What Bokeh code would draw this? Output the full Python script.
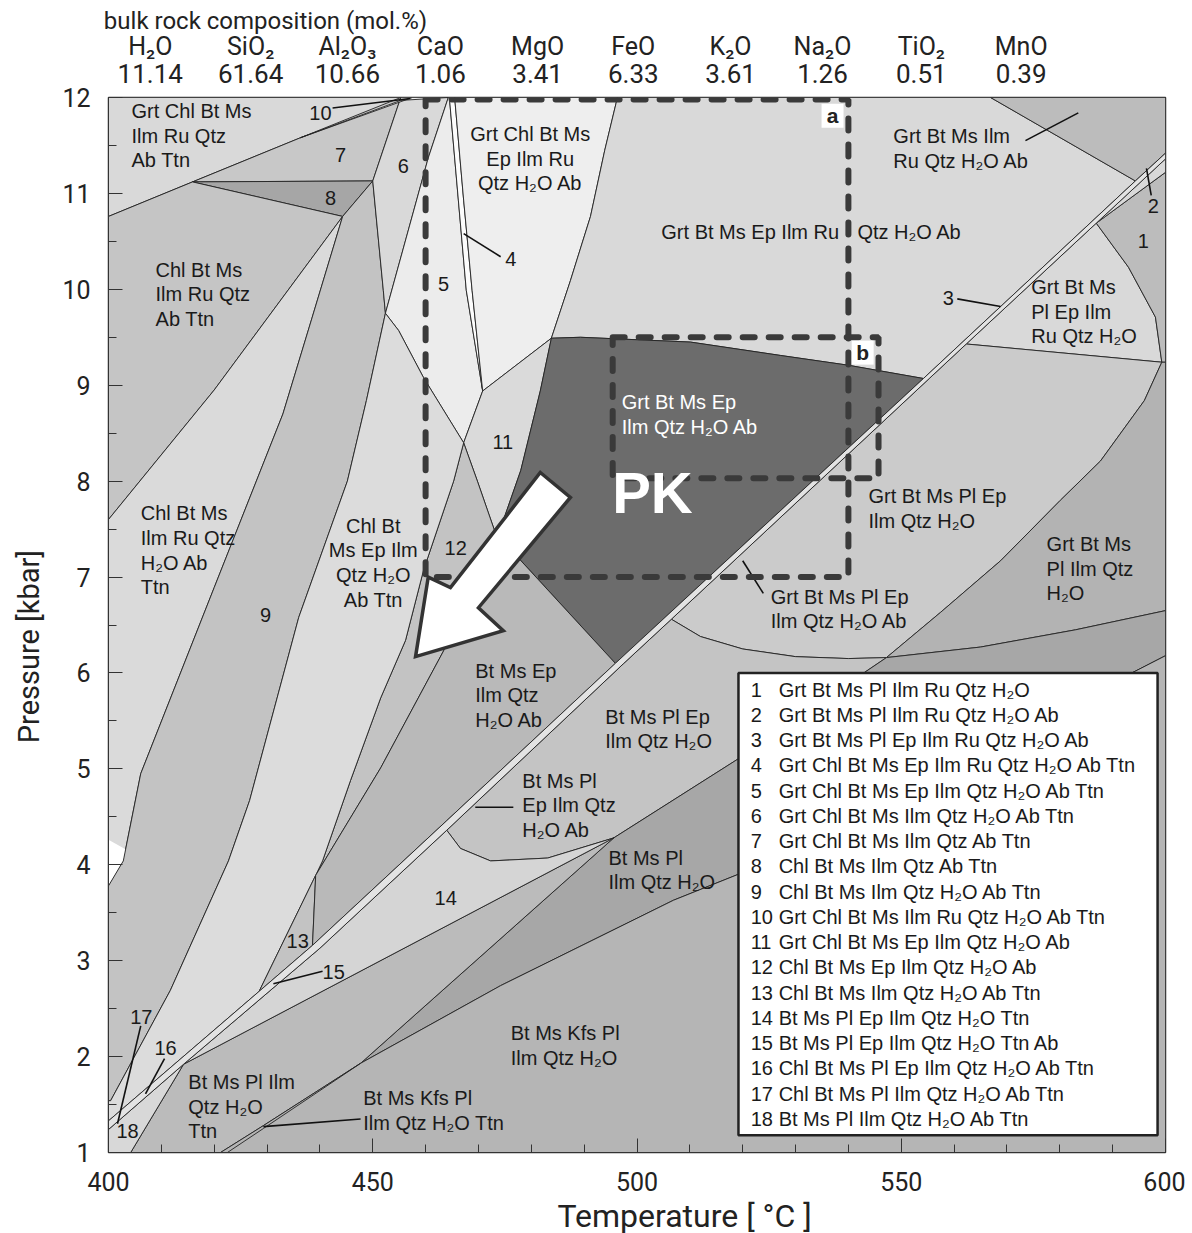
from bokeh.plotting import figure
from bokeh.models import Range1d, FixedTicker, LinearAxis
from bokeh.embed import file_html
from bokeh.resources import INLINE
from bokeh.core.properties import value

# ---------------- axes ----------------
x_major = [400, 450, 500, 550, 600]
x_minor = list(range(400, 601, 10))
y_major = list(range(1, 13))
y_minor = [v / 2 for v in range(2, 25)]

# ---------------- bulk composition header ----------------
head_title = "bulk rock composition (mol.%)"
oxides = ["H₂O", "SiO₂", "Al₂O₃", "CaO", "MgO", "FeO", "K₂O", "Na₂O", "TiO₂", "MnO"]
oxide_mol = ["11.14", "61.64", "10.66", "1.06", "3.41", "6.33", "3.61", "1.26", "0.51", "0.39"]

# ---------------- reaction lines (T degC, P kbar) ----------------
D1 = [(400, 1.33), (428.5, 2.68), (438.6, 3.16), (464, 4.46), (495.9, 6.10), (554.2, 9.07), (594.3, 11.13), (600, 11.42)]
D2 = [(400, 1.24), (414.2, 1.92), (440, 3.13), (464, 4.36), (497.5, 6.10), (506.5, 6.56), (555.3, 9.07), (562.3, 9.43), (586.9, 10.69), (600, 11.36)]
K1b = [(422.5, 1.0), (429.3, 1.25), (447.7, 1.93)]

# ---------------- fields (T degC, P kbar) ----------------
f_tl = [(400, 12), (457.5, 12), (436.3, 11.58), (415.9, 11.12), (400, 10.76)]
f10 = [(436.3, 11.58), (457.5, 12), (464.3, 12), (455.3, 11.97)]
f7 = [(415.9, 11.12), (436.3, 11.58), (455.3, 12), (450.0, 11.13)]
f8 = [(415.9, 11.12), (450.0, 11.13), (444.3, 10.76)]
f_chl_ru_ab = [(400, 10.76), (415.9, 11.12), (444.3, 10.76), (420, 8.95), (400, 7.6)]
f_chl_ru_h2o = [(400, 7.6), (420, 8.95), (444.3, 10.76), (438.5, 9.70), (433.0, 8.70), (420.0, 6.89),
                (406.1, 4.95), (402.8, 4.04), (400, 3.78)]
f_white = [(400, 3.78), (402.8, 4.04), (403.3, 4.16), (400, 4.26)]
f9 = [(444.3, 10.76), (450.0, 11.13), (452.0, 9.99), (452.4, 9.75), (448.8, 8.84), (445.2, 8.0), (436.0, 6.58),
      (426.7, 4.67), (422.7, 4.04), (411.7, 2.69), (400.4, 1.54), (400, 1.54), (400, 3.78), (402.8, 4.04),
      (406.1, 4.95), (420.0, 6.89), (433.0, 8.70), (438.5, 9.70)]
f6 = [(455.3, 12), (464.3, 12), (460.5, 11.37), (452.4, 9.75), (452.0, 9.99), (450.0, 11.13)]
f5 = [(464.3, 12), (464.5, 12), (466.2, 10.93), (467.7, 9.99), (470.8, 8.94), (467.2, 8.40), (459.6, 9.08),
      (454.9, 9.57), (452.4, 9.75), (460.5, 11.37)]
f4 = [(464.5, 12), (465.5, 12), (467.2, 10.93), (468.8, 9.99), (470.8, 8.94), (467.7, 9.99), (466.2, 10.93)]
f_grt_chl_ep_ru = [(465.5, 12), (496.3, 12), (493.9, 11.45), (491.2, 10.76), (487.4, 10.09), (483.8, 9.49),
                   (470.8, 8.94), (468.8, 9.99), (467.2, 10.93)]
f_grt_ep_ru = [(496.3, 12), (566.9, 12), (594.3, 11.13), (554.2, 9.07), (539.8, 9.21), (527.2, 9.31),
               (510.1, 9.45), (489.3, 9.50), (483.8, 9.49), (487.4, 10.09), (491.2, 10.76), (493.9, 11.45)]
f_grt_ilm_ru = [(566.9, 12), (600, 12), (600, 11.42), (594.3, 11.13)]
f11 = [(470.8, 8.94), (483.8, 9.49), (481.7, 8.94), (478.0, 8.11), (474.7, 7.59), (473.2, 7.46), (469.8, 8.0),
       (467.2, 8.40)]
f_pk = [(483.8, 9.49), (489.3, 9.50), (510.1, 9.45), (527.2, 9.31), (539.8, 9.21), (554.2, 9.07), (495.9, 6.10),
        (473.2, 7.46), (474.7, 7.59), (478.0, 8.11), (481.7, 8.94)]
f12 = [(467.2, 8.40), (469.8, 8.0), (473.2, 7.46), (463.4, 6.23), (451.5, 5.01), (439.2, 3.89), (440.5, 4.04),
       (445.8, 4.88), (451.5, 5.74), (456.2, 6.34), (459.6, 7.07), (465.3, 8.0)]
f_chl_ep_ttn = [(452.4, 9.75), (454.9, 9.57), (459.6, 9.08), (467.2, 8.40), (465.3, 8.0), (459.6, 7.07),
                (456.2, 6.34), (451.5, 5.74), (445.8, 4.88), (440.5, 4.04), (439.2, 3.89), (428.5, 2.68),
                (400, 1.33), (400, 1.54), (400.4, 1.54), (411.7, 2.69), (422.7, 4.04), (426.7, 4.67),
                (436.0, 6.58), (445.2, 8.0), (448.8, 8.84)]
f13 = [(439.2, 3.89), (438.6, 3.16), (428.5, 2.68)]
f_bt_ep = [(473.2, 7.46), (495.9, 6.10), (464, 4.46), (438.6, 3.16), (439.2, 3.89), (451.5, 5.01), (463.4, 6.23)]
f_grt_pl_ep_ru = [(562.3, 9.43), (586.9, 10.69), (593.0, 10.23), (598.1, 9.71), (599.3, 9.24)]
f1 = [(586.9, 10.69), (600, 11.22), (600, 9.24), (599.3, 9.24), (598.1, 9.71), (593.0, 10.23)]
f2 = [(586.9, 10.69), (600, 11.36), (600, 11.22)]
f_grt_pl_ep = [(562.3, 9.43), (599.3, 9.24), (596.0, 8.84), (587.7, 8.21), (580.1, 7.80), (568.8, 7.17),
               (557.4, 6.63), (547.2, 6.16), (540, 6.15), (530, 6.17), (520, 6.25), (512, 6.38), (506.5, 6.56),
               (555.3, 9.07)]
f_grt_pl_ilm = [(599.3, 9.24), (600, 9.24), (600, 6.65), (583, 6.45), (565, 6.27), (547.2, 6.16), (557.4, 6.63),
                (568.8, 7.17), (580.1, 7.80), (587.7, 8.21), (596.0, 8.84)]
f_bt_pl_ep = [(464, 4.36), (497.5, 6.10), (506.5, 6.56), (512, 6.38), (520, 6.25), (530, 6.17), (540, 6.15),
              (547.2, 6.16), (542.9, 6.00), (530.9, 5.56), (519.6, 5.12), (495.6, 4.28), (483.1, 4.07),
              (472.3, 4.04), (466.6, 4.17)]
f_bt_pl_ilm = [(447.7, 1.93), (495.6, 4.28), (519.6, 5.12), (530.9, 5.56), (542.9, 6.00), (547.2, 6.16),
               (565, 6.27), (583, 6.45), (600, 6.65), (600, 6.18), (519.6, 3.91), (506.9, 3.63), (474.2, 2.74)]
f_bt_pl_ttn = [(404.2, 1.0), (414.2, 1.92), (495.6, 4.28), (447.7, 1.93), (429.3, 1.28), (421.2, 1.0)]
f_kfs = [(421.2, 1.0), (600, 1.0), (600, 6.18), (519.6, 3.91), (506.9, 3.63), (474.2, 2.74), (447.7, 1.93),
         (429.3, 1.28)]
f14 = [(414.2, 1.92), (440, 3.13), (464, 4.36), (466.6, 4.17), (472.3, 4.04), (483.1, 4.07), (495.6, 4.28)]
f18 = [(400, 1.0), (404.2, 1.0), (414.2, 1.92), (400, 1.24)]
f_sliver = D1 + D2[::-1]

fields = [f_tl, f7, f8, f_chl_ru_ab, f_chl_ru_h2o, f_white, f9, f6, f10, f5, f4, f_grt_chl_ep_ru, f_grt_ep_ru,
          f_grt_ilm_ru, f11, f_pk, f12, f_chl_ep_ttn, f13, f_bt_ep, f_grt_pl_ep_ru, f1, f2, f_grt_pl_ep,
          f_grt_pl_ilm, f_bt_pl_ep, f_bt_pl_ilm, f_bt_pl_ttn, f_kfs, f14, f18, f_sliver]
fill = ["#d9d9d9", "#c8c8c8", "#a6a6a6", "#c5c5c5", "#dadada", "#ffffff", "#c3c3c3", "#d9d9d9", "#efefef",
        "#ececec", "#fcfcfc", "#eeeeee", "#d9d9d9", "#bcbcbc", "#dadada", "#6c6c6c", "#c3c3c3", "#dcdcdc",
        "#c3c3c3", "#b9b9b9", "#d9d9d9", "#bcbcbc", "#d9d9d9", "#cbcbcb", "#b3b3b3", "#c4c4c4", "#a7a7a7",
        "#bbbbbb", "#b5b5b5", "#d5d5d5", "#d8d8d8", "#e3e3e3"]
edge = ["#222222"] * len(fields)
edge[5] = None

# ---------------- leader lines ----------------
leaders = [
    [(442.4, 11.89), (457.1, 11.99)],   # 10
    [(467.2, 10.58), (474.2, 10.34)],   # 4
    [(573.5, 11.55), (583.5, 11.84)],   # Grt Bt Ms Ilm ...
    [(597.3, 10.98), (596.4, 11.26)],   # 2
    [(560.6, 9.90), (568.8, 9.82)],     # 3
    [(520.0, 7.17), (523.9, 6.83)],     # Grt Bt Ms Pl Ep ... Ab
    [(469.4, 4.60), (476.6, 4.60)],     # Bt Ms Pl Ep ... Ab
    [(440.5, 2.89), (431.2, 2.76)],     # 15
    [(406.1, 2.32), (401.7, 1.30)],     # 17
    [(410.6, 1.98), (407.0, 1.61)],     # 16
    [(447.7, 1.35), (429.3, 1.27)],     # Bt Ms Kfs Pl ... Ttn
]

# ---------------- study area boxes & P-T path arrow ----------------
box_a = [(460, 11.98), (540, 11.98), (540, 7.0), (460, 7.0), (460, 11.98)]
box_b = [(495.4, 9.5), (545.7, 9.5), (545.7, 8.03), (495.4, 8.03), (495.4, 9.5)]
arrow = [(481.7, 8.09), (487.4, 7.83), (470.0, 6.68), (474.7, 6.44), (458.1, 6.17), (460.5, 7.0), (464.7, 6.89)]

# ---------------- labels ----------------
lab_left = [
    ("Grt Chl Bt Ms\nIlm Ru Qtz\nAb Ttn", 404.35, 11.975),
    ("Chl Bt Ms\nIlm Ru Qtz\nAb Ttn", 408.9, 10.32),
    ("Grt Bt Ms Ep Ilm Ru", 504.6, 10.71),
    ("Qtz H₂O Ab", 541.7, 10.71),
    ("Grt Bt Ms Ilm\nRu Qtz H₂O Ab", 548.5, 11.71),
    ("Grt Bt Ms\nPl Ep Ilm\nRu Qtz H₂O", 574.6, 10.14),
    ("Chl Bt Ms\nIlm Ru Qtz\nH₂O Ab\nTtn", 406.1, 7.78),
    ("Grt Bt Ms Pl Ep\nIlm Qtz H₂O", 543.8, 7.96),
    ("Grt Bt Ms\nPl Ilm Qtz\nH₂O", 577.5, 7.46),
    ("Grt Bt Ms Pl Ep\nIlm Qtz H₂O Ab", 525.3, 6.91),
    ("Bt Ms Ep\nIlm Qtz\nH₂O Ab", 469.4, 6.14),
    ("Bt Ms Pl Ep\nIlm Qtz H₂O", 494.0, 5.66),
    ("Bt Ms Pl\nEp Ilm Qtz\nH₂O Ab", 478.3, 4.99),
    ("Bt Ms Pl\nIlm Qtz H₂O", 494.6, 4.19),
    ("Bt Ms Pl Ilm\nQtz H₂O\nTtn", 415.1, 1.85),
    ("Bt Ms Kfs Pl\nIlm Qtz H₂O Ttn", 448.2, 1.68),
    ("Bt Ms Kfs Pl\nIlm Qtz H₂O", 476.1, 2.36),
]
lab_center = [
    ("Grt Chl Bt Ms\nEp Ilm Ru\nQtz H₂O Ab", 479.8, 11.735),
    ("Chl Bt\nMs Ep Ilm\nQtz H₂O\nAb Ttn", 450.1, 7.65),
]
lab_num = [("10", 440.1, 11.84), ("7", 443.9, 11.40), ("6", 455.8, 11.29), ("8", 442.0, 10.95),
           ("5", 463.4, 10.06), ("4", 476.1, 10.32), ("2", 597.7, 10.87), ("1", 595.8, 10.50),
           ("3", 558.9, 9.91), ("11", 474.6, 8.41), ("9", 429.7, 6.60), ("12", 465.7, 7.30),
           ("14", 463.8, 3.65), ("13", 435.8, 3.21), ("15", 442.6, 2.88), ("17", 406.2, 2.41),
           ("16", 410.8, 2.09), ("18", 403.6, 1.22)]

legend_num = [str(i) for i in range(1, 19)]
legend_txt = [
    "Grt Bt Ms Pl Ilm Ru Qtz H₂O",
    "Grt Bt Ms Pl Ilm Ru Qtz H₂O Ab",
    "Grt Bt Ms Pl Ep Ilm Ru Qtz H₂O Ab",
    "Grt Chl Bt Ms Ep Ilm Ru Qtz H₂O Ab Ttn",
    "Grt Chl Bt Ms Ep Ilm Qtz H₂O Ab Ttn",
    "Grt Chl Bt Ms Ilm Qtz H₂O Ab Ttn",
    "Grt Chl Bt Ms Ilm Qtz Ab Ttn",
    "Chl Bt Ms Ilm Qtz Ab Ttn",
    "Chl Bt Ms Ilm Qtz H₂O Ab Ttn",
    "Grt Chl Bt Ms Ilm Ru Qtz H₂O Ab Ttn",
    "Grt Chl Bt Ms Ep Ilm Qtz H₂O Ab",
    "Chl Bt Ms Ep Ilm Qtz H₂O Ab",
    "Chl Bt Ms Ilm Qtz H₂O Ab Ttn",
    "Bt Ms Pl Ep Ilm Qtz H₂O Ttn",
    "Bt Ms Pl Ep Ilm Qtz H₂O Ttn Ab",
    "Chl Bt Ms Pl Ep Ilm Qtz H₂O Ab Ttn",
    "Chl Bt Ms Pl Ilm Qtz H₂O Ab Ttn",
    "Bt Ms Pl Ilm Qtz H₂O Ab Ttn",
]

AX_FONT = "Roboto"
LB_FONT = "Liberation Sans"
NB = "\u00a0"

# ---------------- figure ----------------
p = figure(frame_width=1057, frame_height=1055, x_range=Range1d(400, 600), y_range=Range1d(1, 12),
           output_backend="svg", toolbar_location=None,
           min_border_left=108, min_border_top=97, min_border_right=20, min_border_bottom=81)
p.background_fill_color = "#d9d9d9"
p.border_fill_color = "white"
p.outline_line_color = "#333333"
p.outline_line_width = 1.5
p.grid.visible = False

for ax, maj, mnr in ((p.xaxis[0], x_major, x_minor), (p.yaxis[0], y_major, y_minor)):
    ax.ticker = FixedTicker(ticks=maj, minor_ticks=mnr)
    ax.major_tick_in = 14
    ax.major_tick_out = 0
    ax.minor_tick_in = 8
    ax.minor_tick_out = 0
    ax.major_tick_line_color = "#333333"
    ax.minor_tick_line_color = "#333333"
    ax.axis_line_color = "#333333"
    ax.major_label_text_font = AX_FONT
    ax.major_label_text_font_size = "25px"
    ax.major_label_text_color = "#222222"
    ax.axis_label_text_font = AX_FONT
    ax.axis_label_text_font_style = "normal"
    ax.axis_label_text_color = "#222222"
p.xaxis.axis_label = NB * 12 + "Temperature [ °C ]"
p.xaxis.axis_label_text_font_size = "32px"
p.yaxis.axis_label = "Pressure [kbar]" + NB * 6
p.yaxis.axis_label_text_font_size = "29px"
p.xaxis.major_label_standoff = 19
p.xaxis.axis_label_standoff = 3
p.yaxis.major_label_standoff = 18
p.yaxis.axis_label_standoff = 13

# header: bulk rock composition as label rows above the frame
head_T = [407.9, 426.9, 445.2, 462.8, 481.2, 499.3, 517.7, 535.1, 553.8, 572.7]
title_T = 429.7
ax_mol = LinearAxis(ticker=FixedTicker(ticks=head_T, minor_ticks=[]),
                    major_label_overrides={t: m for t, m in zip(head_T, oxide_mol)})
ax_ox = LinearAxis(ticker=FixedTicker(ticks=head_T, minor_ticks=[]),
                   major_label_overrides={t: o for t, o in zip(head_T, oxides)})
ax_title = LinearAxis(ticker=FixedTicker(ticks=[title_T], minor_ticks=[]),
                      major_label_overrides={title_T: head_title})
for ax, fs, so in ((ax_mol, "26px", 15), (ax_ox, "25px", 0), (ax_title, "24px", -6)):
    ax.axis_line_color = None
    ax.major_tick_line_color = None
    ax.minor_tick_line_color = None
    ax.major_tick_in = 0
    ax.major_tick_out = 0
    ax.minor_tick_in = 0
    ax.minor_tick_out = 0
    ax.major_label_text_font = AX_FONT
    ax.major_label_text_font_size = fs
    ax.major_label_text_color = "#222222"
    ax.major_label_standoff = so
    p.add_layout(ax, "above")

# fields
p.patches([[v[0] for v in f] for f in fields], [[v[1] for v in f] for f in fields],
          fill_color=fill, line_color=edge, line_width=0.9)
p.line([v[0] for v in K1b], [v[1] for v in K1b], line_color="#222222", line_width=0.9)

# leader lines
p.multi_line([[a[0], b[0]] for a, b in leaders], [[a[1], b[1]] for a, b in leaders],
             line_color="#111111", line_width=1.6)

# dashed boxes
for bx in (box_a, box_b):
    p.line([v[0] for v in bx], [v[1] for v in bx], line_color="#3a3a3a", line_width=6,
           line_dash="12 14", line_cap="round")
p.rect(x=[537.0, 542.7], y=[11.81, 9.34], width=22, height=24, width_units="screen", height_units="screen",
       fill_color="white", line_color=None)
p.text(x=[537.0, 542.7], y=[11.81, 9.34], text=["a", "b"], text_align="center", text_baseline="middle",
       text_font=value(LB_FONT), text_font_size=value("21px"), text_font_style="bold", text_color="#222222")

# arrow
p.patch([v[0] for v in arrow], [v[1] for v in arrow], fill_color="white", line_color="#333333",
        line_width=3.5, line_join="miter")

# field labels
common = dict(text_font=value(LB_FONT), text_font_size=value("20px"), text_color="#1a1a1a",
              text_line_height=1.12)
p.text(x=[l[1] for l in lab_left], y=[l[2] for l in lab_left], text=[l[0] for l in lab_left],
       text_align="left", text_baseline="top", **common)
p.text(x=[l[1] for l in lab_center], y=[l[2] for l in lab_center], text=[l[0] for l in lab_center],
       text_align="center", text_baseline="top", **common)
p.text(x=[l[1] for l in lab_num], y=[l[2] for l in lab_num], text=[l[0] for l in lab_num],
       text_align="center", text_baseline="middle", **common)
p.text(x=[497.1], y=[8.94], text=["Grt Bt Ms Ep\nIlm Qtz H₂O Ab"], text_align="left", text_baseline="top",
       text_font=value(LB_FONT), text_font_size=value("20px"), text_color="white", text_line_height=1.12)
p.text(x=[495.3], y=[7.88], text=["PK"], text_align="left", text_baseline="middle",
       text_font=value(LB_FONT), text_font_size=value("58px"), text_font_style="bold", text_color="white")

# legend box
p.quad(left=[519.2], right=[598.5], bottom=[1.18], top=[6.0], fill_color="white", line_color="#222222",
       line_width=2.5)
row_step = 0.2633
leg_P = [5.827 - row_step * i for i in range(len(legend_num))]
p.text(x=[521.5] * len(legend_num), y=leg_P, text=legend_num, text_align="left", text_baseline="middle",
       **common)
p.text(x=[526.8] * len(legend_txt), y=leg_P, text=legend_txt, text_align="left", text_baseline="middle",
       **common)

open("out.html", "w").write(file_html(p, INLINE))
